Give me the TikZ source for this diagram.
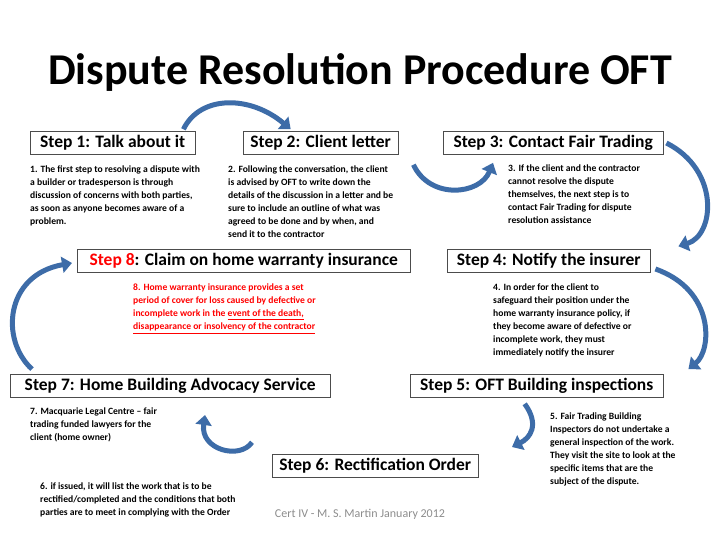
\documentclass[tikz,border=0pt]{standalone}
\usepackage{fontspec}
\setmainfont{Carlito}
\usetikzlibrary{arrows.meta,calc}
\definecolor{arrowblue}{HTML}{3D6CA8}
\tikzset{
  stepbox/.style={draw=black!70,fill=white,inner xsep=6pt,inner ysep=4pt,font=\fontsize{17.5}{20}\selectfont\bfseries,anchor=west},
  desc/.style={align=left,anchor=north west,inner sep=0pt,font=\fontsize{9.6}{13}\selectfont\bfseries},
  flow/.style={arrowblue,line width=5pt,-{Triangle[length=10pt,width=16pt]}},
}
\begin{document}
\begin{tikzpicture}[x=1pt,y=-1pt]
	\useasboundingbox (0,0) rectangle (720,540);
	\node (title) at (360,72) {\fontsize{44}{48}\selectfont\bfseries Dispute Resolution Procedure OFT};
	% step boxes
	\node [stepbox,minimum width=165pt] (s1) at (30,143) {Step 1: Talk about it};
	\node [stepbox,minimum width=155pt] (s2) at (243,143) {Step 2: Client letter};
	\node [stepbox,minimum width=220pt] (s3) at (443,143) {Step 3: Contact Fair Trading};
	\node [stepbox,minimum width=333pt] (s8) at (77,261) {\textcolor{red}{Step 8}: Claim on home warranty insurance};
	\node [stepbox,minimum width=203pt] (s4) at (447,261) {Step 4: Notify the insurer};
	\node [stepbox,minimum width=320pt] (s7) at (10,386) {Step 7: Home Building Advocacy Service};
	\node [stepbox,minimum width=253pt] (s5) at (410,386) {Step 5: OFT Building inspections};
	\node [stepbox,minimum width=206pt] (s6) at (272,466) {Step 6: Rectification Order};
	% descriptions
	\node [desc] (d1) at (30,166) {1. The first step to resolving a dispute with\\a builder or tradesperson is through\\discussion of  concerns with both parties,\\as soon as anyone becomes aware of a\\problem.};
	\node [desc] (d2) at (228,166) {2. Following the conversation, the client\\is advised by OFT to write down the\\details of the discussion in a letter and be\\sure to include an outline of what was\\agreed to be done and by when, and\\send it to the contractor};
	\node [desc] (d3) at (508,165) {3. If the client and the contractor\\cannot resolve the dispute\\themselves, the next step is to\\contact Fair Trading for dispute\\resolution assistance};
	\node [desc,text=red] (d8) at (133,284) {8. Home warranty insurance provides a set\\period of cover for loss caused by defective or\\incomplete work in the \underline{event of the death,}\\\underline{disappearance or insolvency of the contractor}};
	\node [desc] (d4) at (493,284) {4. In order for the client to\\safeguard their position under  the\\home warranty insurance policy, if\\they become aware of defective or\\incomplete work, they must\\immediately notify the insurer};
	\node [desc] (d7) at (30,408) {7. Macquarie Legal Centre -- fair\\trading funded lawyers for the\\client (home owner)};
	\node [desc] (d5) at (550,413) {5. Fair Trading Building\\Inspectors do not undertake a\\general inspection of the work.\\They visit the site to look at the\\specific items that are the\\subject of the dispute.};
	\node [desc] (d6) at (40,483) {6. if issued, it will list the work that is to be\\rectified/completed and the conditions that both\\parties are to meet in complying with the Order};
	\node (foot) at (360,514) {\fontsize{12}{14}\selectfont\textcolor{black!45}{Cert IV - M. S. Martin January 2012}};
	% arrows
	\draw [flow] ($(s1.north east)+(-12,-2)$) .. controls (200,95) and (250,95) .. ($(s2.north)+(-30,-2)$);
	\draw [flow] ($(s2.south east)+(15,10)$) .. controls (430,200) and (480,195) .. ($(s3.south west)+(50,8)$);
	\draw [flow] ($(s3.east)+(3,0)$) .. controls (720,170) and (715,235) .. ($(s4.north east)+(28,-3)$);
	\draw [flow] ($(s4.east)+(5,8)$) .. controls (715,290) and (712,350) .. ($(s5.north east)+(25,-5)$);
	\draw [flow] ($(s5.south)+(-12,6)$) .. controls (540,425) and (530,438) .. (512,447);
	\draw [flow] ($(s6.north west)+(-20,-12)$) .. controls (240,460) and (200,450) .. (205,415);
	\draw [flow] ($(s7.north west)+(22,-5)$) .. controls (0,340) and (5,275) .. ($(s8.west)+(-5,2)$);
\end{tikzpicture}
\end{document}
